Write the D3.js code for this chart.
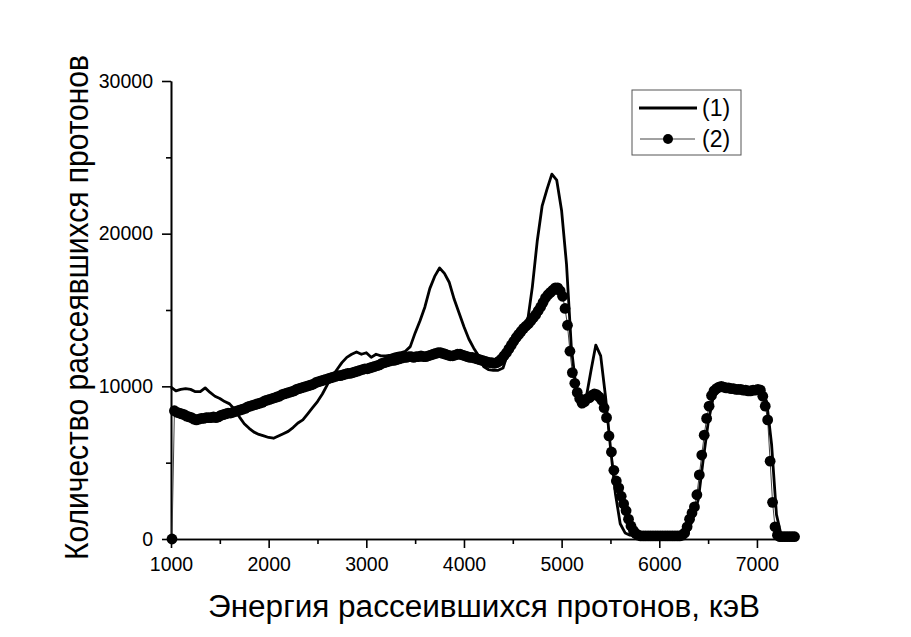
<!DOCTYPE html>
<html>
<head>
<meta charset="utf-8">
<script src="https://cdn.jsdelivr.net/npm/d3@7"></script>
<style>
  body { margin: 0; background: #fff; }
  svg { display: block; font-family: "Liberation Sans", Arial, sans-serif; }
</style>
</head>
<body>
<svg width="911" height="637"></svg>
<script>
// curve (1): energy grid starts at 1000 keV, one reading every 50 keV
var series1Start = 1000, series1Step = 50;
var series1Counts = [
  9950, 9700, 9800, 9850, 9800, 9650, 9650, 9900, 9600, 9350,
  9200, 9000, 8850, 8500, 8000, 7550, 7250, 7000, 6850, 6750,
  6650, 6600, 6750, 6900, 7050, 7300, 7600, 7800, 8200, 8600,
  9000, 9500, 10100, 10650, 11100, 11550, 11900, 12100, 12250, 12100,
  12200, 11900, 12100, 12000, 12000, 12050, 12150, 12200, 12300, 12600,
  13500, 14300, 15200, 16400, 17200, 17750, 17400, 16800, 15700, 14800,
  13900, 13100, 12500, 12000, 11300, 11100, 11050, 11050, 11200, 12200,
  12800, 13300, 13800, 14200, 16500, 19500, 21800, 22900, 23900, 23500,
  21500, 18000, 12500, 9800, 8650, 9200, 11000, 12700, 12000, 9300,
  6000, 3000, 1000, 400, 250, 200, 200, 200, 200, 200,
  200, 200, 200, 200, 200, 200, 500, 1500, 2600, 5200,
  7600, 9200, 9800, 9950, 9900, 9850, 9800, 9750, 9700, 9750,
  9750, 9700, 9000, 6200, 1600, 200, 150, 150, 150
];

// curve (2): energy grid starts at 1010 keV, one reading every 25 keV
var series2Start = 1010, series2Step = 25;
var series2Counts = [
  0, 8400, 8300, 8250, 8200, 8150, 8050, 8000, 7950, 7850,
  7800, 7850, 7900, 7900, 7950, 7950, 7950, 8000, 7950, 8000,
  8100, 8150, 8200, 8250, 8250, 8300, 8350, 8400, 8450, 8500,
  8550, 8650, 8700, 8750, 8800, 8850, 8900, 8950, 9050, 9100,
  9150, 9200, 9250, 9300, 9350, 9450, 9500, 9550, 9600, 9650,
  9700, 9800, 9850, 9900, 9950, 10000, 10050, 10100, 10150, 10250,
  10300, 10350, 10400, 10450, 10500, 10550, 10600, 10650, 10700, 10700,
  10750, 10800, 10850, 10850, 10900, 10950, 11000, 11050, 11100, 11150,
  11150, 11200, 11250, 11300, 11350, 11400, 11500, 11550, 11600, 11650,
  11700, 11700, 11750, 11800, 11850, 11900, 11900, 11950, 11950, 11900,
  11950, 11950, 12000, 11950, 11950, 12000, 12050, 12100, 12150, 12200,
  12200, 12150, 12100, 12050, 12000, 12000, 12050, 12100, 12100, 12050,
  12000, 11950, 11900, 11900, 11850, 11800, 11750, 11700, 11650, 11600,
  11550, 11550, 11500, 11550, 11650, 11800, 12000, 12200, 12450, 12700,
  12950, 13200, 13400, 13600, 13800, 13950, 14100, 14300, 14500, 14700,
  14950, 15200, 15500, 15800, 16000, 16150, 16300, 16450, 16450, 16250,
  15900, 15100, 14000, 12300, 10900, 10200, 9600, 9200, 8900, 9000,
  9200, 9250, 9400, 9500, 9450, 9300, 9100, 8600, 7950, 6750,
  5700, 4500, 3800, 3350, 2800, 2300, 1850, 1300, 850, 550,
  350, 250, 200, 200, 200, 200, 200, 200, 200, 200,
  200, 200, 200, 200, 200, 200, 200, 200, 200, 250,
  400, 800, 1300, 1700, 2100, 2900, 4200, 5500, 6800, 7900,
  8700, 9400, 9700, 9850, 9950, 10000, 9950, 9900, 9900, 9850,
  9850, 9800, 9800, 9800, 9750, 9750, 9700, 9700, 9750, 9750,
  9800, 9750, 9350, 8700, 7800, 5100, 2400, 800, 250, 150,
  150, 150, 150, 150, 150, 150
];

var xMajorTicks = [1000, 2000, 3000, 4000, 5000, 6000, 7000];
var xMinorTicks = [1500, 2500, 3500, 4500, 5500, 6500];
var yMajorTicks = [0, 10000, 20000, 30000];
var yMinorTicks = [5000, 15000, 25000];
var legendLabels = ["(1)", "(2)"];
var xTitle = "Энергия рассеившихся протонов, кэВ";
var yTitle = "Количество рассеявшихся протонов";

var svg = d3.select("svg");

var x = d3.scaleLinear().domain([1000, 7400]).range([171, 796]);
var y = d3.scaleLinear().domain([0, 30000]).range([539, 81]);

var data1 = series1Counts.map(function (v, i) { return { e: series1Start + i * series1Step, n: v }; });
var data2 = series2Counts.map(function (v, i) { return { e: series2Start + i * series2Step, n: v }; });

var line = d3.line()
    .x(function (d) { return x(d.e); })
    .y(function (d) { return y(d.n); });

// axes
function styleAxis(g) {
  g.selectAll(".domain").attr("stroke", "#000").attr("stroke-width", 1.6);
  g.selectAll(".tick line").attr("stroke", "#000").attr("stroke-width", 1.6);
  g.selectAll("text").attr("fill", "#000").attr("font-size", 19.5)
    .attr("font-family", "'Liberation Sans', Arial, sans-serif");
}

svg.append("g")
    .attr("transform", "translate(0,539)")
    .call(d3.axisBottom(x).tickValues(xMinorTicks).tickSize(5).tickFormat("").tickSizeOuter(0))
    .call(styleAxis);
svg.append("g")
    .attr("transform", "translate(0,539)")
    .call(d3.axisBottom(x).tickValues(xMajorTicks).tickSize(9).tickPadding(9).tickFormat(d3.format("d")).tickSizeOuter(0))
    .call(styleAxis);

svg.append("g")
    .attr("transform", "translate(171,0)")
    .call(d3.axisLeft(y).tickValues(yMinorTicks).tickSize(5).tickFormat("").tickSizeOuter(0))
    .call(styleAxis);
svg.append("g")
    .attr("transform", "translate(171,0)")
    .call(d3.axisLeft(y).tickValues(yMajorTicks).tickSize(9).tickPadding(9).tickFormat(d3.format("d")).tickSizeOuter(0))
    .call(styleAxis);

// curve (2): thin line with dots
svg.append("path")
    .datum(data2)
    .attr("fill", "none")
    .attr("stroke", "#444")
    .attr("stroke-width", 1)
    .attr("d", line);

svg.append("g").selectAll("circle")
    .data(data2)
    .enter().append("circle")
    .attr("cx", function (d) { return x(d.e); })
    .attr("cy", function (d) { return y(d.n); })
    .attr("r", 5.4)
    .attr("fill", "#000");

// curve (1): thick line
svg.append("path")
    .datum(data1)
    .attr("fill", "none")
    .attr("stroke", "#000")
    .attr("stroke-width", 2.8)
    .attr("stroke-linejoin", "round")
    .attr("d", line);

// axis titles
svg.append("text")
    .attr("x", 484)
    .attr("y", 617)
    .attr("text-anchor", "middle")
    .attr("font-size", 31)
    .attr("textLength", 552)
    .attr("lengthAdjust", "spacingAndGlyphs")
    .attr("fill", "#000")
    .text(xTitle);

svg.append("text")
    .attr("transform", "translate(88,307.5) rotate(-90)")
    .attr("text-anchor", "middle")
    .attr("font-size", 33)
    .attr("textLength", 505)
    .attr("lengthAdjust", "spacingAndGlyphs")
    .attr("fill", "#000")
    .text(yTitle);

// legend
var legend = svg.append("g");
legend.append("rect")
    .attr("x", 632).attr("y", 90)
    .attr("width", 109).attr("height", 65)
    .attr("fill", "#fff")
    .attr("stroke", "#555")
    .attr("stroke-width", 1);

legend.append("line")
    .attr("x1", 639).attr("x2", 697).attr("y1", 108).attr("y2", 108)
    .attr("stroke", "#000").attr("stroke-width", 3);
legend.append("line")
    .attr("x1", 640).attr("x2", 695).attr("y1", 139).attr("y2", 139)
    .attr("stroke", "#444").attr("stroke-width", 1);
legend.append("circle")
    .attr("cx", 668).attr("cy", 139).attr("r", 5).attr("fill", "#000");

legend.selectAll("text")
    .data(legendLabels)
    .enter().append("text")
    .attr("x", 702)
    .attr("y", function (d, i) { return 116 + i * 31; })
    .attr("font-size", 23)
    .attr("fill", "#000")
    .text(function (d) { return d; });
</script>
</body>
</html>
